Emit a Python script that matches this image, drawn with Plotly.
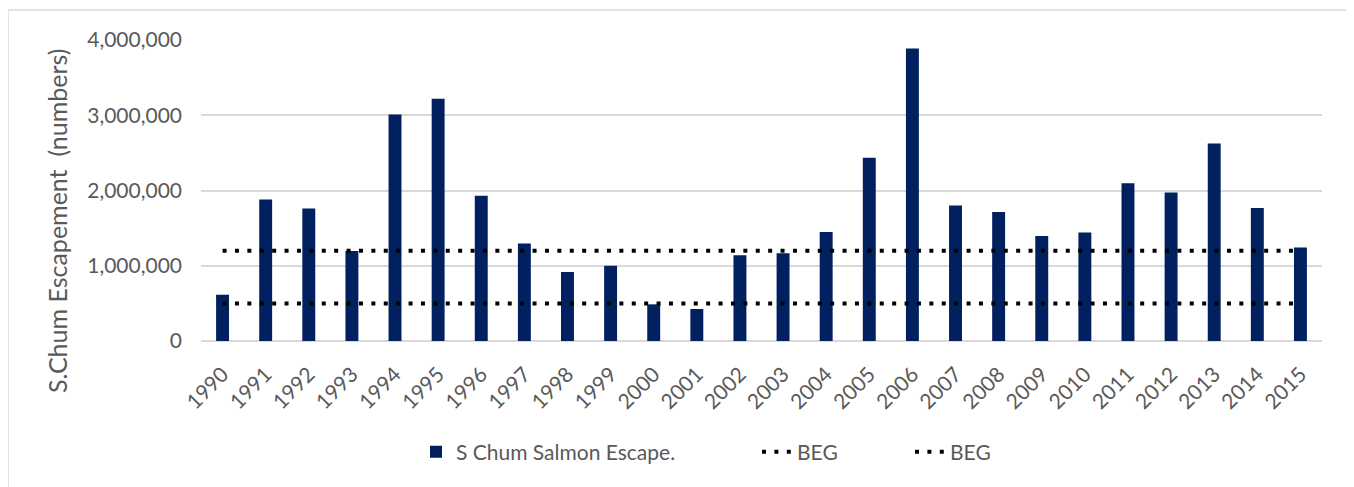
import plotly.graph_objects as go

years = [str(y) for y in range(1990, 2016)]
escapement = [615000, 1882000, 1762000, 1195000, 3010000, 3218000, 1930000, 1297000,
              916000, 1000000, 487000, 425000, 1138000, 1165000, 1448000, 2434000,
              3887000, 1802000, 1713000, 1394000, 1443000, 2098000, 1975000, 2625000,
              1766000, 1244000]
beg_upper = [1200000] * len(years)
beg_lower = [500000] * len(years)
y_ticks = [0, 1000000, 2000000, 3000000, 4000000]
y_tick_labels = ["0", "1,000,000", "2,000,000", "3,000,000", "4,000,000"]
y_title = "S.Chum Escapement  (numbers)"

FONT = "Lato"
GRAY = "#595959"
L, R, T, B = 193, 40, 32, 154


def paper_x(px):
    return (px - 201) / 1121


def paper_y(py):
    return (341 - py) / 301


fig = go.Figure()
fig.add_trace(go.Bar(x=years, y=escapement, name="S Chum Salmon Escape.",
                     marker=dict(color="#002060", line=dict(width=0)), legend="legend"))
fig.add_trace(go.Scatter(x=years, y=beg_upper, name="BEG", mode="lines", legend="legend2",
                         line=dict(color="black", width=4, dash="4px,8.4px")))
fig.add_trace(go.Scatter(x=years, y=beg_lower, name="BEG", mode="lines", legend="legend3",
                         line=dict(color="black", width=4, dash="4px,8.4px")))

leg_common = dict(orientation="h", xanchor="left", yanchor="middle",
                  font=dict(size=21, color=GRAY, family=FONT), bgcolor="rgba(0,0,0,0)")
ly = paper_y(452)

fig.update_layout(
    width=1354, height=487,
    margin=dict(l=L, r=R, t=T, b=B),
    paper_bgcolor="white", plot_bgcolor="white",
    font=dict(family=FONT, color=GRAY, size=21),
    bargap=0.70,
    showlegend=True,
    legend=dict(x=paper_x(416), y=ly, **leg_common),
    legend2=dict(x=paper_x(757), y=ly, **leg_common),
    legend3=dict(x=paper_x(910), y=ly, **leg_common),
    xaxis=dict(type="category", tickangle=-45, showgrid=False, showline=False,
               ticks="", ticklabelstandoff=16, tickfont=dict(size=21, color=GRAY)),
    yaxis=dict(range=[0, 4000000], tickvals=y_ticks, ticktext=y_tick_labels,
               showgrid=True, gridcolor="#d9d9d9", gridwidth=1.5,
               zeroline=True, zerolinecolor="#d9d9d9", zerolinewidth=1.5,
               showline=False, ticks="", ticklabelstandoff=18,
               tickfont=dict(size=21, color=GRAY)),
    annotations=[dict(text=y_title, textangle=-90, xref="paper", yref="paper",
                      x=paper_x(57), y=paper_y(221), xanchor="center", yanchor="middle",
                      showarrow=False, font=dict(size=25, color=GRAY, family=FONT))],
    shapes=[dict(type="rect", xref="paper", yref="paper",
                 x0=paper_x(8), x1=paper_x(1352),
                 y0=paper_y(500), y1=paper_y(10),
                 line=dict(color="#d9d9d9", width=1.5), fillcolor="rgba(0,0,0,0)", layer="below")],
)

fig.write_html("out.html")
